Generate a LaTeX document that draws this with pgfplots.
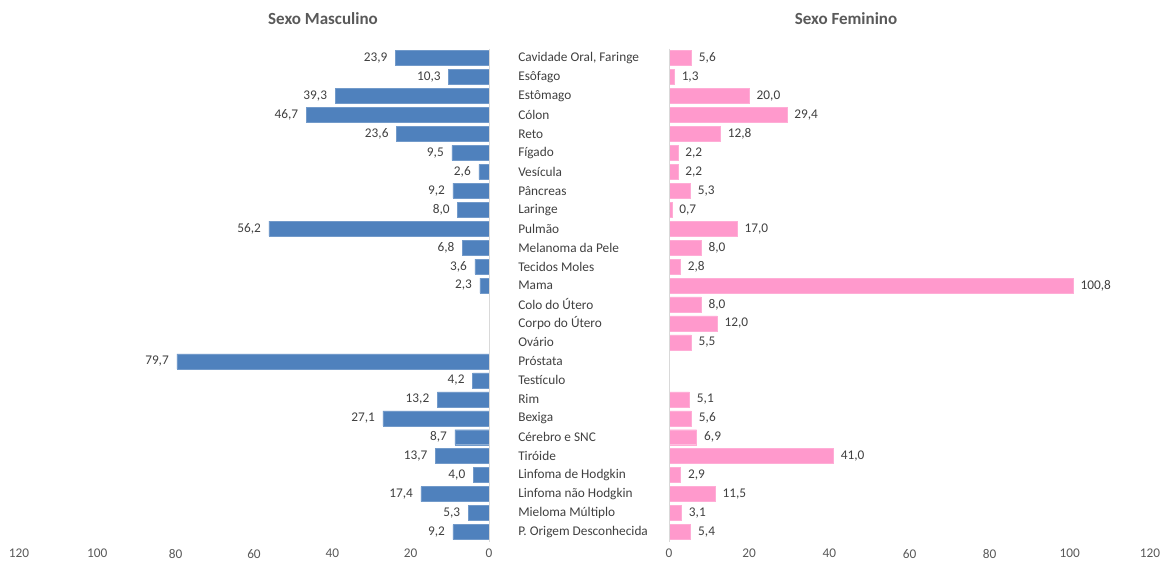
\documentclass[border=0pt]{standalone}
\usepackage{pgfplots}
\pgfplotsset{compat=1.18}
\usepackage{fontspec}
\setmainfont{Carlito}
\definecolor{mblue}{RGB}{79,129,189}
\definecolor{fpink}{RGB}{255,153,204}
\definecolor{txt}{RGB}{64,64,64}
\definecolor{tick}{RGB}{89,89,89}
\definecolor{axl}{RGB}{217,217,217}
\begin{document}
\begin{tikzpicture}[x=1pt,y=1pt]
\useasboundingbox (0,0) rectangle (1161,-561);
\pgfplotsset{
  common/.style={
    scale only axis,
    height=493pt,
    ymin=0.5, ymax=26.5,
    y dir=reverse,
    xmin=0, xmax=120,
    xtick={0,20,...,120},
    ytick={1,...,26},
    axis line style={draw=none},
    major tick style={draw=none},
    xbar, bar width=15pt, bar shift=0pt,
    /pgf/number format/assume math mode=true,
    tick label style={font=\fontsize{13.3}{15}\selectfont, text=tick},
    xticklabel style={yshift=-4pt},
    nodes near coords,
    nodes near coords style={font=\fontsize{13.3}{15}\selectfont, text=txt,
      /pgf/number format/fixed, /pgf/number format/fixed zerofill,
      /pgf/number format/precision=1, /pgf/number format/use comma,
      /pgf/number format/assume math mode=true},
    clip=false,
  }
}
% Male
\begin{axis}[common,
  at={(19pt,-541.5pt)}, anchor=south west,
  width=470pt,
  x dir=reverse,
  yticklabels={},
  nodes near coords style={anchor=east, xshift=-4.5pt},
]
\addplot[fill=mblue, draw=mblue!80!white] coordinates {
(23.9,1) (10.3,2) (39.3,3) (46.7,4) (23.6,5) (9.5,6) (2.6,7) (9.2,8) (8.0,9)
(56.2,10) (6.8,11) (3.6,12) (2.3,13) (79.7,17) (4.2,18) (13.2,19) (27.1,20)
(8.7,21) (13.7,22) (4.0,23) (17.4,24) (5.3,25) (9.2,26)};
\draw[axl] (axis cs:0,0.5) -- (axis cs:0,26.5);
\end{axis}
% Female
\begin{axis}[common,
  at={(669pt,-541.5pt)}, anchor=south west,
  width=481pt,
  yticklabels={{Cavidade Oral, Faringe},Esôfago,Estômago,Cólon,Reto,Fígado,Vesícula,Pâncreas,Laringe,Pulmão,Melanoma da Pele,Tecidos Moles,Mama,Colo do Útero,Corpo do Útero,Ovário,Próstata,Testículo,Rim,Bexiga,Cérebro e SNC,Tiróide,Linfoma de Hodgkin,Linfoma não Hodgkin,Mieloma Múltiplo,P. Origem Desconhecida},
  yticklabel style={anchor=west, xshift=-150pt, text=txt},
  nodes near coords style={anchor=west, xshift=4pt},
]
\addplot[fill=fpink, draw=fpink!80!white] coordinates {
(5.6,1) (1.3,2) (20.0,3) (29.4,4) (12.8,5) (2.2,6) (2.2,7) (5.3,8) (0.7,9)
(17.0,10) (8.0,11) (2.8,12) (100.8,13) (8.0,14) (12.0,15) (5.5,16)
(5.1,19) (5.6,20) (6.9,21) (41.0,22) (2.9,23) (11.5,24) (3.1,25) (5.4,26)};
\draw[axl] (axis cs:0,0.5) -- (axis cs:0,26.5);
\end{axis}
\node[font=\fontsize{17}{19}\selectfont\bfseries, text=tick] at (323,-19) {Sexo Masculino};
\node[font=\fontsize{17}{19}\selectfont\bfseries, text=tick] at (846,-19) {Sexo Feminino};
\end{tikzpicture}
\end{document}
